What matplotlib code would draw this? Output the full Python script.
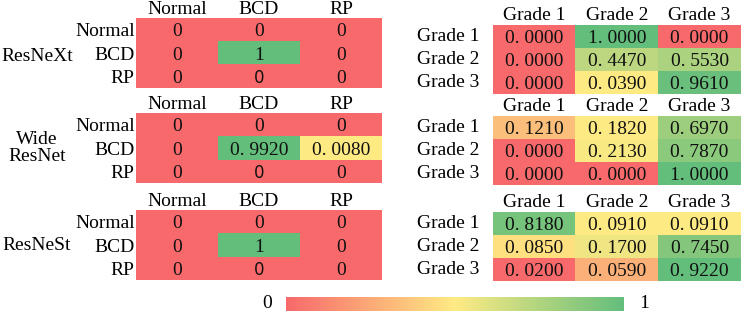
import numpy as np
import matplotlib.pyplot as plt
from matplotlib.colors import LinearSegmentedColormap

plt.rcParams['font.family'] = ['Liberation Serif', 'DejaVu Serif']

W, H = 744, 311
FS = 14

# data
models = ['ResNeXt', 'Wide\nResNet', 'ResNeSt']
classes = ['Normal', 'BCD', 'RP']
grades = ['Grade 1', 'Grade 2', 'Grade 3']

resnext_cls = [[0, 0, 0], [0, 1, 0], [0, 0, 0]]
wide_cls = [[0, 0, 0], [0, 0.992, 0.008], [0, 0, 0]]
resnest_cls = [[0, 0, 0], [0, 1, 0], [0, 0, 0]]

resnext_grade = [[0.0, 1.0, 0.0], [0.0, 0.447, 0.553], [0.0, 0.039, 0.961]]
wide_grade = [[0.121, 0.182, 0.697], [0.0, 0.213, 0.787], [0.0, 0.0, 1.0]]
resnest_grade = [[0.818, 0.091, 0.091], [0.085, 0.170, 0.745], [0.020, 0.059, 0.922]]

cls_data = [resnext_cls, wide_cls, resnest_cls]
grade_data = [resnext_grade, wide_grade, resnest_grade]

cmap = LinearSegmentedColormap.from_list('ryg', ['#F8696B', '#FFEB84', '#63BE7B'])


def scale3(m):
    # min -> red, median -> yellow, max -> green (per table)
    m = np.asarray(m, dtype=float)
    lo, mid, hi = m.min(), np.percentile(m, 50), m.max()
    out = np.zeros_like(m)
    for idx, v in np.ndenumerate(m):
        if v <= lo:
            out[idx] = 0.0
        elif v <= mid:
            out[idx] = 0.5 * (v - lo) / (mid - lo)
        else:
            out[idx] = 0.5 + 0.5 * (v - mid) / (hi - mid)
    return out


def px(x0, y0, x1, y1):
    return [x0 / W, 1 - y1 / H, (x1 - x0) / W, (y1 - y0) / H]


def fmt_cls(v):
    return str(int(v)) if v == int(v) else f'{v:.4f}'.replace('.', '. ')


def fmt_grade(v):
    return f'{v:.4f}'.replace('.', '. ')


def draw_table(rect, m, cols, rows, fmt, top_pad, left_pad, row_va, odd_font=False):
    ax = fig.add_axes(rect)
    ax.imshow(scale3(m), cmap=cmap, vmin=0, vmax=1, aspect='auto')
    ax.set_xticks(range(3))
    ax.set_xticklabels(cols, fontsize=FS)
    ax.set_yticks(range(3))
    ax.set_yticklabels(rows, fontsize=FS, va=row_va)
    ax.xaxis.tick_top()
    ax.tick_params(axis='x', length=0, pad=top_pad)
    ax.tick_params(axis='y', length=0, pad=left_pad)
    for s in ax.spines.values():
        s.set_visible(False)
    m = np.asarray(m, dtype=float)
    for i in range(3):
        for j in range(3):
            fam = ['DejaVu Sans'] if (odd_font and i == 2 and j == 1) else None
            fs = FS - 2 if fam else FS
            ax.text(j, i, fmt(m[i, j]), ha='center', va='center_baseline',
                    fontsize=fs, family=fam, color='#111111')
    return ax


fig = plt.figure(figsize=(W / 100, H / 100), dpi=100)

left_tops = [18, 113, 210]
right_tops = [25, 116, 212]
name_y = [57, 148, 246]

for k in range(3):
    t = left_tops[k]
    draw_table(px(136, t, 382, t + 70), cls_data[k], classes, classes,
               fmt_cls, 0, 1, 'center_baseline', odd_font=True)
    t = right_tops[k]
    draw_table(px(493, t, 741, t + 69), grade_data[k], grades, grades,
               fmt_grade, 0.5, 10, 'center')
    fig.text(37 / W, 1 - name_y[k] / H, models[k], ha='center', va='center',
             fontsize=FS, linespacing=1.05)

# colour bar
cax = fig.add_axes(px(286, 297, 624, 311))
cax.imshow(np.linspace(0, 1, 256)[None, :], cmap=cmap, aspect='auto')
cax.axis('off')
fig.text(267 / W, 1 - 303 / H, '0', ha='center', va='center', fontsize=FS)
fig.text(644 / W, 1 - 303 / H, '1', ha='center', va='center', fontsize=FS)

fig.savefig('out.png', dpi=100)
